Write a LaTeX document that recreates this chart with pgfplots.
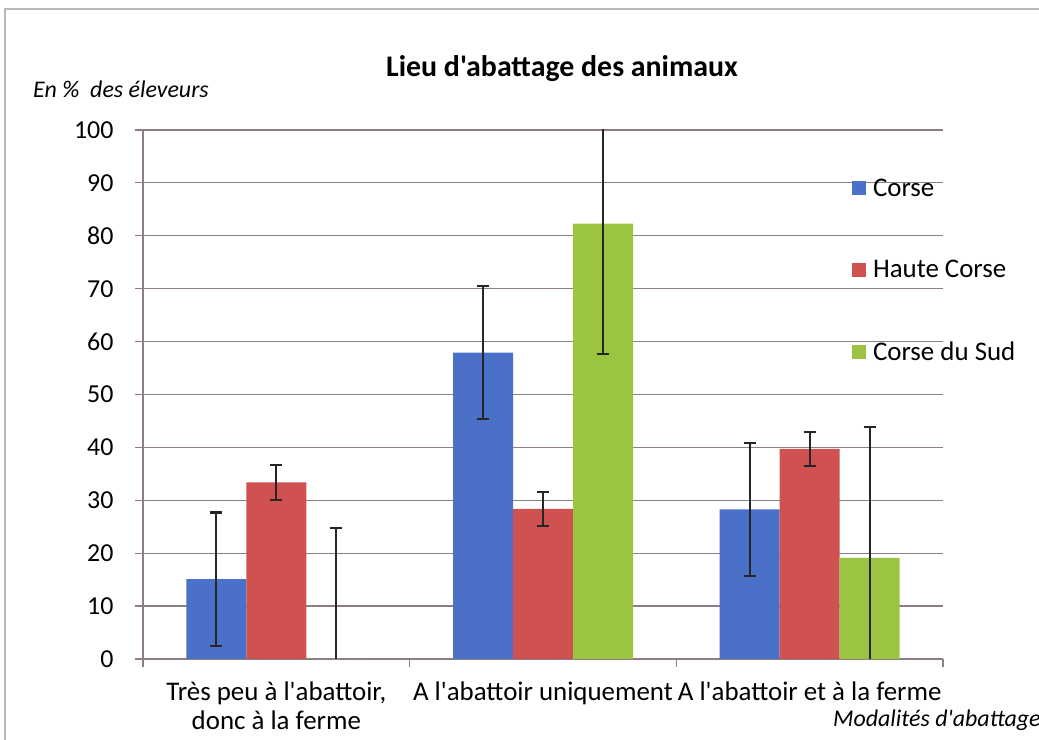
\documentclass[border=0pt]{standalone}
\usepackage{fontspec}
\setmainfont{Carlito}[Ligatures=TeXOff]
\usepackage{pgfplots}
\pgfplotsset{compat=1.18}
\definecolor{cblue}{RGB}{74,112,200}
\definecolor{cred}{RGB}{208,82,80}
\definecolor{cgreen}{RGB}{155,196,64}
\definecolor{gridc}{RGB}{140,126,130}

\pgfplotstableread{
x y e
0 15.1 12.6
1 57.9 12.6
2 28.3 12.6
}\corse
\pgfplotstableread{
x y e
0 33.4 3.3
1 28.4 3.2
2 39.7 3.2
}\haute
\pgfplotstableread{
x y e
0 0 24.7
1 82.3 24.7
2 19.1 24.7
}\sud

\begin{document}
\begin{tikzpicture}
\useasboundingbox (0bp,0bp) rectangle (1039bp,740bp);
\draw[gray!55, line width=1.2bp] (5bp,-10bp) -- (5bp,731bp) -- (1060bp,731bp);
\begin{axis}[
  at={(143bp,81bp)}, anchor=south west,
  scale only axis, width=800bp, height=529bp,
  xmin=-0.5, xmax=2.5, ymin=0, ymax=100,
  ybar=0pt, bar width=60bp,
  axis lines*=left,
  axis line style={gridc, line width=1.2bp, -},
  ymajorgrids, major grid style={gridc, line width=1.2bp},
  ytick={0,10,...,100},
  xtick={-0.5,0.5,1.5,2.5}, xticklabels={},
  tick align=outside, major tick length=8bp,
  tick style={gridc, line width=1.2bp},
  /pgf/number format/assume math mode=true,
  yticklabel style={font=\fontsize{26}{30}\selectfont, xshift=-18bp},
  extra x ticks={0,1,2},
  extra x tick labels={{Très peu à l'abattoir,\\donc à la ferme},{A l'abattoir uniquement},{A l'abattoir et à la ferme}},
  extra x tick style={major tick length=0pt, grid=none,
     tick label style={font=\fontsize{27}{29}\selectfont, align=center, yshift=-19bp}},
  legend style={at={(0.886,0.912)}, anchor=north west, draw=none, fill=none,
     font=\fontsize{27}{30}\selectfont, row sep=58.5bp, column sep=5bp, inner sep=0pt},
  legend cell align=left,
  legend image code/.code={\draw[#1,draw=none] (0bp,-7bp) rectangle (14bp,7bp);},
  clip=true,
  error bars/error bar style={line width=2.1bp, black!85},
  error bars/error mark options={rotate=90, mark size=6bp, line width=2.1bp, black!85},
]
\addplot[fill=cblue, draw=none, error bars/.cd, y dir=both, y explicit] table[x=x, y=y, y error=e] {\corse};
\addplot[fill=cred, draw=none, error bars/.cd, y dir=both, y explicit] table[x=x, y=y, y error=e] {\haute};
\addplot[fill=cgreen, draw=none, error bars/.cd, y dir=both, y explicit] table[x=x, y=y, y error=e] {\sud};
\legend{Corse, Haute Corse, Corse du Sud}
\end{axis}
\node[font=\fontsize{30}{34}\selectfont\bfseries] at (562bp,671bp) {Lieu d'abattage des animaux};
\node[anchor=west, inner sep=0pt, font=\fontsize{24}{28}\selectfont\itshape] at (33bp,651bp) {En \%\ \ des éleveurs};
\node[anchor=west, inner sep=0pt, font=\fontsize{24}{28}\selectfont\itshape] at (833bp,20bp) {Modalités d'abattage};
\end{tikzpicture}
\end{document}
